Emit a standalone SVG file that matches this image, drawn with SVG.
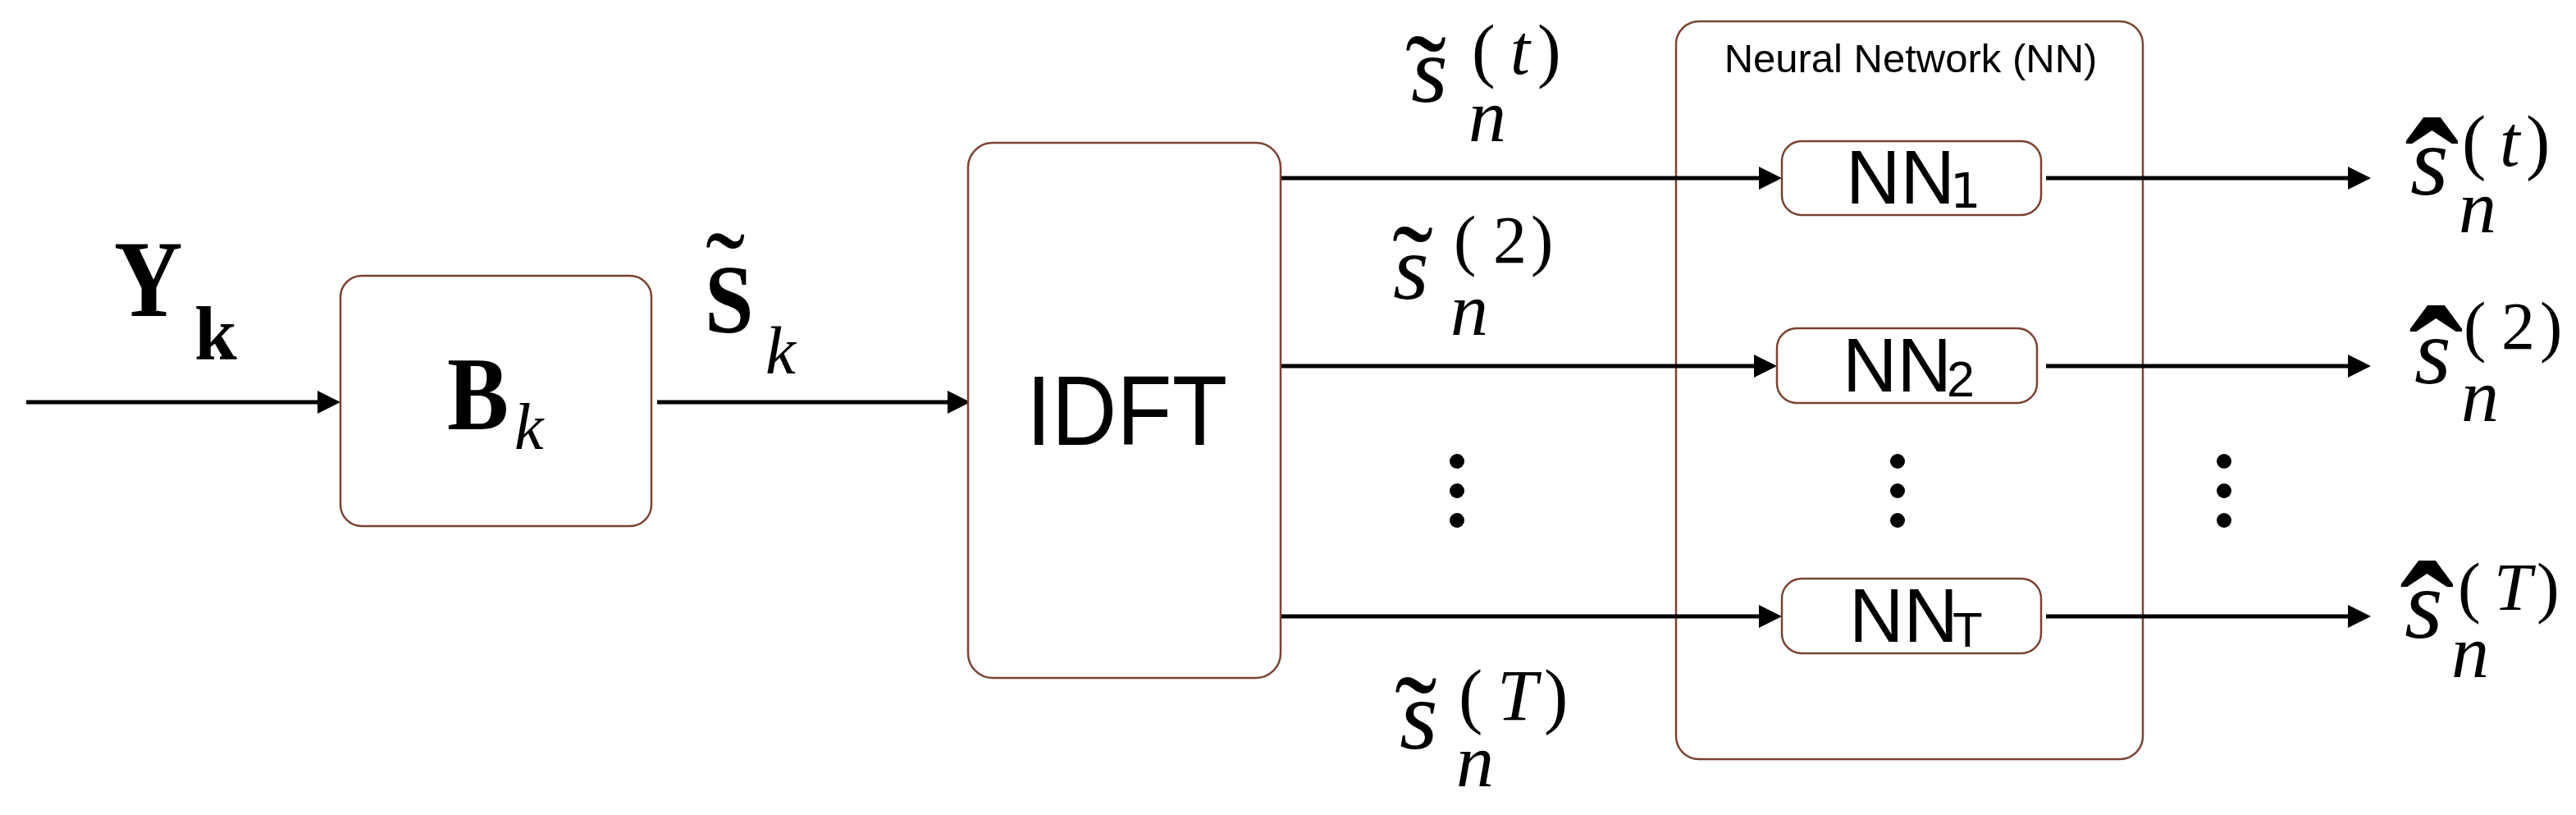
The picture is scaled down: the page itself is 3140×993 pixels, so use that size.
<svg xmlns="http://www.w3.org/2000/svg" width="3140" height="993" viewBox="0 0 3140 993">
<defs>
<style>
.box{fill:#ffffff;stroke:#7a4331;stroke-width:2.5}
.frame{fill:none;stroke:#7a4331;stroke-width:2.5}
.line{stroke:#000;stroke-width:5;fill:none}
.sans{font-family:"Liberation Sans",Arial,sans-serif;fill:#000}
.serif{font-family:"Liberation Serif","Times New Roman",serif;fill:#000}
.it{font-style:italic}
.bd{font-weight:bold}
.dot{fill:#000}
</style>
<marker id="arr" markerUnits="userSpaceOnUse" markerWidth="28" markerHeight="28" refX="14" refY="14" orient="auto">
<path d="M0,0 L28,14 L0,28 z" fill="#000"/>
</marker>
</defs>
<rect width="3140" height="993" fill="#ffffff"/>

<g id="node-NN">
<rect class="frame" x="2043" y="26" width="569" height="899" rx="28"/>
<text class="sans" font-size="49" x="2329" y="88" text-anchor="middle">Neural Network (NN)</text>
</g>

<g id="connectors">
<line class="line" x1="32" y1="490" x2="401" y2="490" marker-end="url(#arr)"/>
<line class="line" x1="801" y1="490" x2="1169" y2="490" marker-end="url(#arr)"/>
<line class="line" x1="1561" y1="217" x2="2158" y2="217" marker-end="url(#arr)"/>
<line class="line" x1="1561" y1="446" x2="2152" y2="446" marker-end="url(#arr)"/>
<line class="line" x1="1561" y1="751" x2="2158" y2="751" marker-end="url(#arr)"/>
<line class="line" x1="2494" y1="217" x2="2876" y2="217" marker-end="url(#arr)"/>
<line class="line" x1="2494" y1="446" x2="2876" y2="446" marker-end="url(#arr)"/>
<line class="line" x1="2494" y1="751" x2="2876" y2="751" marker-end="url(#arr)"/>
</g>

<g id="node-B">
<rect class="box" x="415" y="336" width="379" height="305" rx="26"/>
<text class="serif bd" font-size="128" transform="translate(545,523) scale(0.88,1)">B</text>
<text class="serif it" font-size="80" x="627" y="547">k</text>
</g>

<g id="node-IDFT">
<rect class="box" x="1180" y="174" width="381" height="652" rx="30"/>
<text class="sans" font-size="121" x="1251" y="542" textLength="245" lengthAdjust="spacingAndGlyphs">IDFT</text>
</g>

<g id="node-NN1">
<rect class="box" x="2172" y="172" width="316" height="90" rx="24"/>
<text class="sans" font-size="92" x="2250" y="248">NN</text>
<text font-family="'DejaVu Sans',sans-serif" font-size="59" x="2377" y="253">1</text>
</g>

<g id="node-NN2">
<rect class="box" x="2166" y="400" width="317" height="91" rx="24"/>
<text class="sans" font-size="92" x="2246" y="477">NN</text>
<text class="sans" font-size="61" x="2373" y="483">2</text>
</g>

<g id="node-NNT">
<rect class="box" x="2172" y="705" width="316" height="91" rx="24"/>
<text class="sans" font-size="92" x="2254" y="782">NN</text>
<text class="sans" font-size="60" x="2380" y="788">T</text>
</g>

<g id="labels">
<!-- Y_k -->
<text class="serif bd" font-size="133" transform="translate(139,385) scale(0.87,1)">Y</text>
<text class="serif bd" font-size="93" x="237" y="438">k</text>
<!-- S~_k -->
<text class="serif" font-size="145" x="860" y="382">˜</text>
<text class="serif bd" font-size="119" transform="translate(859,405) scale(0.9,1)">S</text>
<text class="serif it" font-size="83" x="933" y="455">k</text>

<!-- s~ n (t) -->
<text class="serif" font-size="150" x="1713" y="145">˜</text>
<text class="serif it" font-size="115" x="1720" y="124">s</text>
<text class="serif" font-size="86" y="90"><tspan x="1794">(</tspan><tspan class="it" x="1841">t</tspan><tspan x="1874">)</tspan></text>
<text class="serif it" font-size="92" x="1790" y="172">n</text>

<!-- s~ n (2) -->
<text class="serif" font-size="150" x="1697" y="377">˜</text>
<text class="serif it" font-size="112" x="1698" y="364">s</text>
<text class="serif" font-size="82" y="320"><tspan x="1772">(</tspan><tspan x="1820">2</tspan><tspan x="1866">)</tspan></text>
<text class="serif it" font-size="92" x="1768" y="408">n</text>

<!-- s~ n (T) -->
<text class="serif" font-size="155" x="1700" y="930">˜</text>
<text class="serif it" font-size="120" x="1706" y="912">s</text>
<text class="serif" font-size="88" y="877"><tspan x="1778">(</tspan><tspan class="it" x="1825">T</tspan><tspan x="1882">)</tspan></text>
<text class="serif it" font-size="92" x="1775" y="958">n</text>

<!-- s^ n (t) -->
<text class="serif bd" font-size="200" x="2931" y="284">ˆ</text>
<text class="serif it" font-size="120" x="2938" y="237">s</text>
<text class="serif" font-size="88" y="202"><tspan x="3001">(</tspan><tspan class="it" x="3047">t</tspan><tspan x="3079">)</tspan></text>
<text class="serif it" font-size="92" x="2997" y="283">n</text>

<!-- s^ n (2) -->
<text class="serif bd" font-size="200" x="2936" y="513">ˆ</text>
<text class="serif it" font-size="115" x="2943" y="467">s</text>
<text class="serif" font-size="82" y="425"><tspan x="3003">(</tspan><tspan x="3049">2</tspan><tspan x="3096">)</tspan></text>
<text class="serif it" font-size="92" x="3000" y="513">n</text>

<!-- s^ n (T) -->
<text class="serif bd" font-size="200" x="2925" y="824">ˆ</text>
<text class="serif it" font-size="120" x="2931" y="777">s</text>
<text class="serif" font-size="83" y="743"><tspan x="2996">(</tspan><tspan class="it" x="3040">T</tspan><tspan x="3092">)</tspan></text>
<text class="serif it" font-size="92" x="2988" y="825">n</text>

<!-- vertical ellipses -->
<circle class="dot" cx="1776" cy="562" r="9"/>
<circle class="dot" cx="1776" cy="598" r="9"/>
<circle class="dot" cx="1776" cy="634" r="9"/>
<circle class="dot" cx="2313" cy="562" r="9"/>
<circle class="dot" cx="2313" cy="598" r="9"/>
<circle class="dot" cx="2313" cy="634" r="9"/>
<circle class="dot" cx="2711" cy="562" r="9"/>
<circle class="dot" cx="2711" cy="598" r="9"/>
<circle class="dot" cx="2711" cy="634" r="9"/>
</g>
</svg>
